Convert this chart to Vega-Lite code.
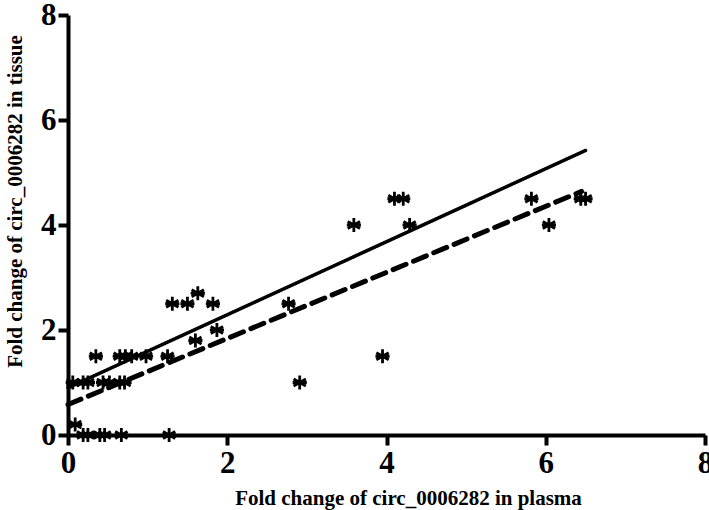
{
  "$schema": "https://vega.github.io/schema/vega-lite/v6.json",
  "width": 637,
  "height": 420,
  "autosize": "none",
  "padding": {"left": 68, "top": 15, "right": 4, "bottom": 75},
  "background": "white",
  "config": {
    "view": {"stroke": null},
    "axis": {
      "grid": false,
      "domainColor": "black",
      "domainWidth": 4,
      "tickColor": "black",
      "tickWidth": 4,
      "tickSize": 10,
      "labelFlush": false,
      "labelOverlap": false,
      "labelFont": "Liberation Serif",
      "labelFontWeight": "bold",
      "labelFontSize": 31,
      "labelColor": "black",
      "titleFont": "Liberation Serif",
      "titleFontWeight": "bold",
      "titleFontSize": 21,
      "titleColor": "black"
    }
  },
  "datasets": {
    "pts": [
      {"x": 0.09, "y": 0.2},
      {"x": 0.19, "y": 0.0},
      {"x": 0.25, "y": 0.0},
      {"x": 0.4, "y": 0.0},
      {"x": 0.46, "y": 0.0},
      {"x": 0.67, "y": 0.0},
      {"x": 1.27, "y": 0.0},
      {"x": 0.06, "y": 1.0},
      {"x": 0.19, "y": 1.0},
      {"x": 0.25, "y": 1.0},
      {"x": 0.44, "y": 1.0},
      {"x": 0.52, "y": 1.0},
      {"x": 0.65, "y": 1.0},
      {"x": 0.71, "y": 1.0},
      {"x": 0.35, "y": 1.5},
      {"x": 0.65, "y": 1.5},
      {"x": 0.72, "y": 1.5},
      {"x": 0.8, "y": 1.5},
      {"x": 0.98, "y": 1.5},
      {"x": 1.25, "y": 1.5},
      {"x": 1.6, "y": 1.8},
      {"x": 1.87, "y": 2.0},
      {"x": 1.31, "y": 2.5},
      {"x": 1.5, "y": 2.5},
      {"x": 1.63, "y": 2.7},
      {"x": 1.82, "y": 2.5},
      {"x": 2.77, "y": 2.5},
      {"x": 2.91, "y": 1.0},
      {"x": 3.95, "y": 1.5},
      {"x": 3.59, "y": 4.0},
      {"x": 4.1, "y": 4.5},
      {"x": 4.21, "y": 4.5},
      {"x": 4.29, "y": 4.0},
      {"x": 5.82, "y": 4.5},
      {"x": 6.04, "y": 4.0},
      {"x": 6.44, "y": 4.5},
      {"x": 6.5, "y": 4.5}
    ],
    "fits": [
      {"x": 0.0, "y": 0.9, "fit": "solid"},
      {"x": 6.5, "y": 5.42, "fit": "solid"},
      {"x": 0.0, "y": 0.58, "fit": "dashed"},
      {"x": 6.45, "y": 4.64, "fit": "dashed"}
    ]
  },
  "layer": [
    {
      "data": {"name": "fits"},
      "mark": {"type": "line", "color": "black", "strokeCap": "round"},
      "encoding": {
        "x": {"field": "x", "type": "quantitative", "scale": {"domain": [0, 8], "nice": false},
          "axis": {"values": [0, 2, 4, 6, 8], "format": "d", "title": "Fold change of circ_0006282 in plasma", "labelPadding": 3, "titleX": 340, "titleY": 73, "titleBaseline": "bottom"}},
        "y": {"field": "y", "type": "quantitative", "scale": {"domain": [0, 8], "nice": false},
          "axis": {"values": [0, 2, 4, 6, 8], "format": "d", "title": "Fold change of circ_0006282 in tissue", "labelPadding": 2, "titleX": -64, "titleY": 186, "titleBaseline": "top", "titleAngle": -90}},
        "detail": {"field": "fit"},
        "strokeDash": {"field": "fit", "type": "nominal", "scale": {"domain": ["solid", "dashed"], "range": [[1, 0], [14, 8]]}, "legend": null},
        "strokeWidth": {"field": "fit", "type": "nominal", "scale": {"domain": ["solid", "dashed"], "range": [3.5, 5]}, "legend": null}
      }
    },
    {
      "data": {"name": "pts"},
      "mark": {"type": "point", "shape": "M0,-1L0,1M-0.87,-0.5L0.87,0.5M-0.87,0.5L0.87,-0.5M-1,0L1,0", "filled": false, "stroke": "black", "strokeWidth": 2.8, "size": 200, "opacity": 1},
      "encoding": {
        "x": {"field": "x", "type": "quantitative"},
        "y": {"field": "y", "type": "quantitative"}
      }
    }
  ]
}
